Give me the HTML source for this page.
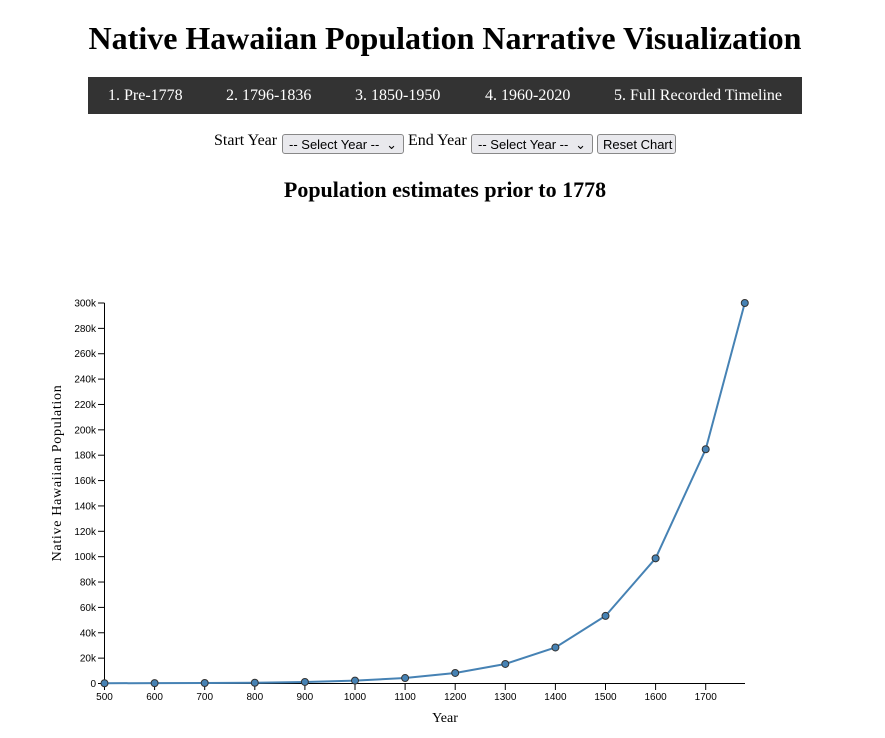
<!DOCTYPE html>
<html><head><meta charset="utf-8"><style>
body{margin:0;background:#fff;width:885px;height:738px;overflow:hidden;position:relative;font-family:"Liberation Serif",serif}
h1{position:absolute;left:0;width:890px;top:19px;margin:0;text-align:center;font-size:32px;font-weight:bold;line-height:38px}
.nav{position:absolute;left:88px;top:77px;width:714px;height:37px;background:#333;color:#fff;font-size:16px}
.nav span{position:absolute;top:10px}
.ctl{position:absolute;top:132px;font-size:16px}
.sel{position:absolute;top:134px;height:20px;border:1px solid #888;border-radius:3px;background:#e9e9ed;font-family:"Liberation Sans",sans-serif;font-size:13px;line-height:20px;padding-left:6px;box-sizing:border-box}
h2{position:absolute;left:0;width:890px;top:177px;margin:0;text-align:center;font-size:22px;font-weight:bold}
</style></head><body>
<h1>Native Hawaiian Population Narrative Visualization</h1>
<div class="nav"><span style="left:20px">1. Pre-1778</span><span style="left:138px">2. 1796-1836</span><span style="left:267px">3. 1850-1950</span><span style="left:397px">4. 1960-2020</span><span style="left:526px">5. Full Recorded Timeline</span></div>
<div class="ctl" style="left:214px">Start Year</div>
<div class="sel" style="left:282px;width:122px">-- Select Year --<span style="position:absolute;right:6px">⌄</span></div>
<div class="ctl" style="left:408px">End Year</div>
<div class="sel" style="left:471px;width:122px">-- Select Year --<span style="position:absolute;right:6px">⌄</span></div>
<div class="sel" style="left:597px;width:79px;padding-left:5px">Reset Chart</div>
<h2>Population estimates prior to 1778</h2>
<svg width="885" height="738" style="position:absolute;left:0;top:0" font-family="Liberation Sans, sans-serif" font-size="10">
<g stroke="#000" fill="none">
<path d="M104.5,303V683.5H745" />
</g>
<g id="yt"></g>
<g id="xt"></g>
<text x="445" y="722" text-anchor="middle" font-family="Liberation Serif, serif" font-size="14">Year</text>
<text transform="translate(61,473) rotate(-90)" text-anchor="middle" font-family="Liberation Serif, serif" font-size="14" letter-spacing="0.7">Native Hawaiian Population</text>
<polyline id="ln" fill="none" stroke="steelblue" stroke-width="2"/>
<g id="pts" fill="steelblue" stroke="#333" stroke-width="1"></g>
</svg>
<script>
var ns="http://www.w3.org/2000/svg";
function el(t,a,p,txt){var e=document.createElementNS(ns,t);for(var k in a)e.setAttribute(k,a[k]);if(txt)e.textContent=txt;document.getElementById(p)?document.getElementById(p).appendChild(e):p.appendChild(e);return e;}
function X(y){return 104.5+(y-500)*0.501;}
function Y(v){return 683.5-v/300000*380.5;}
for(var v=0;v<=300000;v+=20000){var y=Y(v);el("line",{x1:98,x2:104.5,y1:y,y2:y,stroke:"#000"},"yt");el("text",{x:96,y:y+3.5,"text-anchor":"end"},"yt",v?v/1000+"k":"0");}
for(var yr=500;yr<=1700;yr+=100){var x=X(yr);el("line",{x1:x,x2:x,y1:683.5,y2:690,stroke:"#000"},"xt");el("text",{x:x,y:700,"text-anchor":"middle"},"xt",""+yr);}
var d=[[500,200],[600,300],[700,400],[800,600],[900,1200],[1000,2300],[1100,4300],[1200,8300],[1300,15400],[1400,28400],[1500,53300],[1600,98700],[1700,184700],[1778,300000]];
document.getElementById("ln").setAttribute("points",d.map(function(p){return X(p[0])+","+Y(p[1])}).join(" "));
d.forEach(function(p){el("circle",{cx:X(p[0]),cy:Y(p[1]),r:3.5},"pts");});
</script>
</body></html>
